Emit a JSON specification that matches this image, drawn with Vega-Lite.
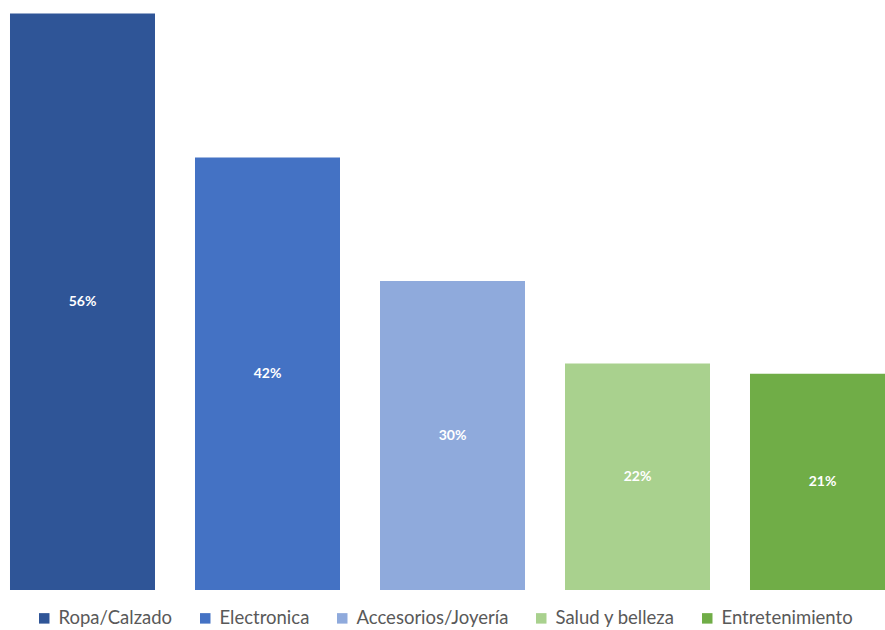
{
  "$schema": "https://vega.github.io/schema/vega-lite/v6.json",
  "width": 885,
  "height": 590,
  "autosize": {"type": "none"},
  "padding": {"left": 0, "top": 0, "right": 0, "bottom": 40},
  "background": "white",
  "config": {"view": {"stroke": null}},
  "data": {"values": [
    {"cat": "Ropa/Calzado", "pct": 56, "label": "56%"},
    {"cat": "Electronica", "pct": 42, "label": "42%"},
    {"cat": "Accesorios/Joyería", "pct": 30, "label": "30%"},
    {"cat": "Salud y belleza", "pct": 22, "label": "22%"},
    {"cat": "Entretenimiento", "pct": 21, "label": "21%"}
  ]},
  "transform": [{"calculate": "datum.pct / 2", "as": "mid"}],
  "encoding": {
    "x": {"field": "cat", "type": "nominal", "sort": null, "axis": null,
      "scale": {"range": [-10, 915], "paddingInner": 0.2162, "paddingOuter": 0.1081}}
  },
  "layer": [
    {"mark": {"type": "bar", "clip": false},
     "encoding": {
       "y": {"field": "pct", "type": "quantitative", "axis": null,
         "scale": {"domain": [0, 57.3], "nice": false, "zero": true}},
       "color": {"field": "cat", "type": "nominal", "sort": null,
         "scale": {"domain": ["Ropa/Calzado", "Electronica", "Accesorios/Joyería", "Salud y belleza", "Entretenimiento"],
                   "range": ["#2F5597", "#4472C4", "#8FAADC", "#A9D18E", "#70AD47"]},
         "legend": {"orient": "none", "legendX": 35, "legendY": 609, "direction": "horizontal", "title": null,
           "symbolType": "square", "symbolSize": 110, "symbolStrokeWidth": 0, "labelFont": "Lato", "labelFontSize": 18.5,
           "labelColor": "#595959", "labelOffset": 5, "columnPadding": 23}}
     }},
    {"mark": {"type": "text", "color": "white", "font": "Lato", "fontWeight": "bold", "fontSize": 14, "baseline": "middle"},
     "encoding": {
       "y": {"field": "mid", "type": "quantitative"},
       "text": {"field": "label"}
     }}
  ]
}
